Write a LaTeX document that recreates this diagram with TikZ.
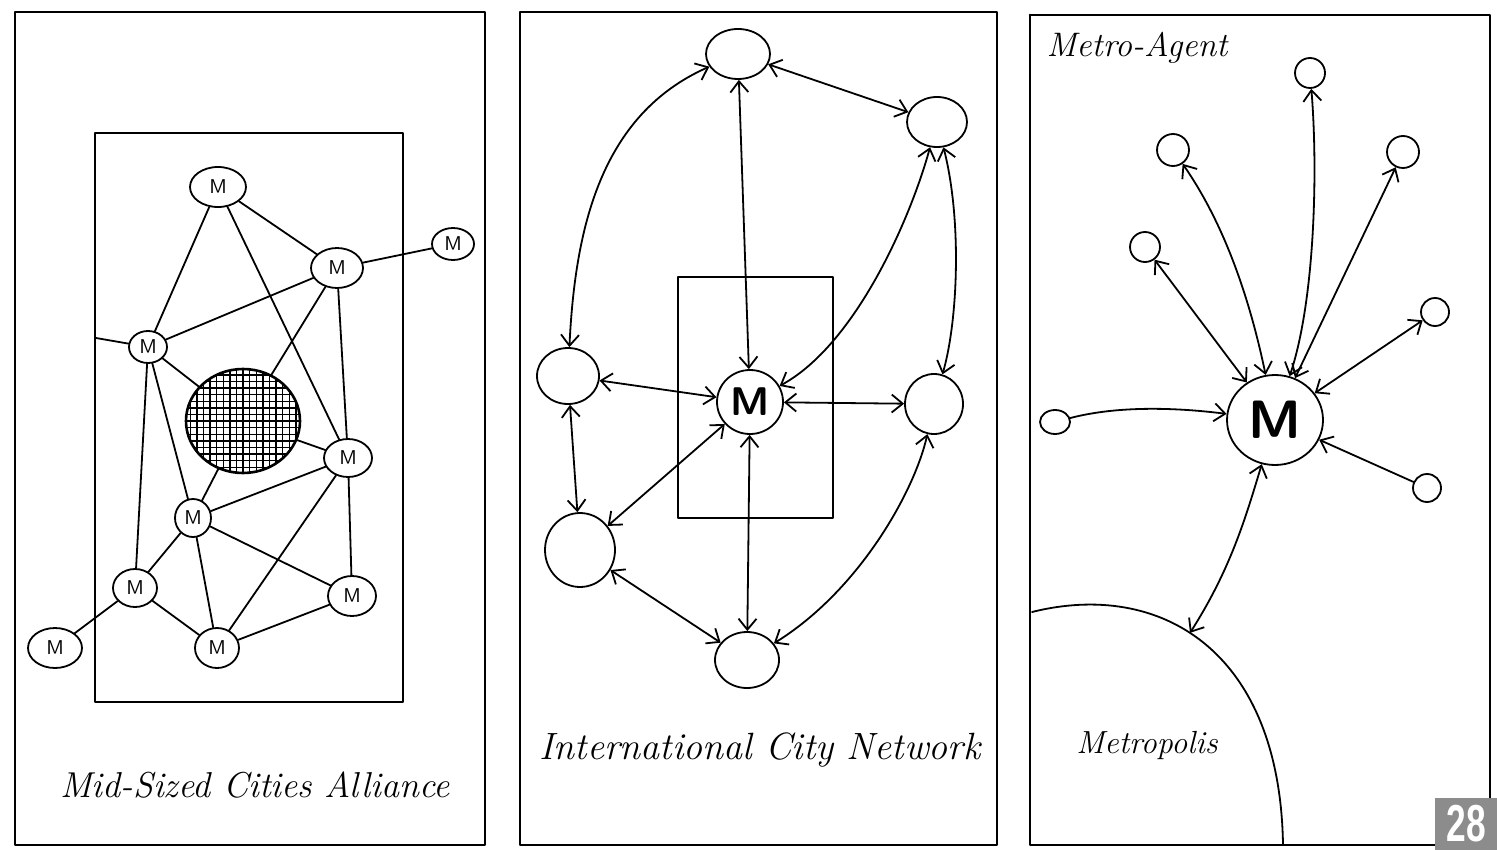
\documentclass[tikz,border=0pt]{standalone}
\usepackage{fontspec}
\newfontfamily\numfont{Liberation Sans}
\usetikzlibrary{arrows.meta,shapes.geometric}
\begin{document}
\begin{tikzpicture}[x=0.5pt,y=-0.5pt, line width=0.9pt, line cap=round, line join=round,
  hbarb/.tip={Straight Barb[length=5.5pt,width=9pt]},
  biarr/.style={hbarb-hbarb},
  toarr/.style={-hbarb},
  frame/.style={line width=1.3pt},
  mnode/.style={draw, ellipse, inner sep=0pt, font=\sffamily\fontsize{10}{10}\selectfont},
  cnode/.style={draw, ellipse, inner sep=0pt},
  bigm/.style={font=\sffamily\bfseries\fontsize{20}{20}\selectfont},
  hand/.style={font=\itshape\fontsize{18}{20}\selectfont, inner sep=0pt}]
\useasboundingbox (0,0) rectangle (1497,850);
\fill[white] (0,0) rectangle (1497,850);

% ---------------- Panel 1 ----------------
\draw[frame] (15,12) rectangle (485,845);
\draw (95,133) rectangle (403,702);
\node[mnode, minimum width=28pt, minimum height=20pt] (a1) at (218,187) {M};
\node[mnode, minimum width=26pt, minimum height=20pt] (ru) at (337,268) {M};
\node[mnode, minimum width=21pt, minimum height=16pt] (fr) at (453,244) {M};
\node[mnode, minimum width=19pt, minimum height=16pt] (lm) at (148,347) {M};
\node[mnode, minimum width=24pt, minimum height=19pt] (rm) at (348,458) {M};
\node[mnode, minimum width=18pt, minimum height=19pt] (cl) at (193,518) {M};
\node[mnode, minimum width=22pt, minimum height=19pt] (ll) at (135,588) {M};
\node[mnode, minimum width=27pt, minimum height=20pt] (fl) at (55,648) {M};
\node[mnode, minimum width=22pt, minimum height=20pt] (bm) at (217,648) {M};
\node[mnode, minimum width=24pt, minimum height=20pt] (rl) at (352,596) {M};
\node[draw, ellipse, inner sep=0pt, line width=1.3pt, minimum width=57pt, minimum height=52pt,
  path picture={\foreach \k in {-9,...,9} {
     \draw[line width=0.7pt] ([xshift=\k*3.3pt]path picture bounding box.north) -- ([xshift=\k*3.3pt]path picture bounding box.south);
     \draw[line width=0.7pt] ([yshift=\k*3.3pt]path picture bounding box.west) -- ([yshift=\k*3.3pt]path picture bounding box.east);}}]
  (hatch) at (243,421) {};
\coordinate (stub) at (96,338);
\draw (a1) -- (lm);
\draw (a1) -- (ru);
\draw (a1) -- (rm);
\draw (ru) -- (fr);
\draw (ru) -- (lm);
\draw (ru) -- (hatch);
\draw (ru) -- (rm);
\draw (rm) -- (rl);
\draw (lm) -- (stub);
\draw (lm) -- (hatch);
\draw (lm) -- (ll);
\draw (lm) -- (cl);
\draw (hatch) -- (cl);
\draw (hatch) -- (rm);
\draw (cl) -- (rm);
\draw (cl) -- (bm);
\draw (cl) -- (ll);
\draw (cl) -- (rl);
\draw (rm) -- (bm);
\draw (ll) -- (fl);
\draw (ll) -- (bm);
\draw (bm) -- (rl);
\node[hand] (lab1) at (255,785) {Mid-Sized Cities Alliance};

% ---------------- Panel 2 ----------------
\draw[frame] (520,12) rectangle (997,845);
\draw (678,277) rectangle (833,518);
\node[cnode, minimum width=32pt, minimum height=25pt] (top) at (738,54) {};
\node[cnode, minimum width=30pt, minimum height=25pt] (tr) at (937,122) {};
\node[cnode, minimum width=31pt, minimum height=28pt] (lf) at (568,376) {};
\node[cnode, minimum width=33pt, minimum height=32pt, bigm] (cm) at (750,402) {M};
\node[cnode, minimum width=29pt, minimum height=30pt] (rt) at (934,404) {};
\node[cnode, minimum width=35pt, minimum height=37pt] (bl) at (580,550) {};
\node[cnode, minimum width=32pt, minimum height=28pt] (bt) at (747,660) {};
\draw[biarr] (top) .. controls (600,115) and (575,230) .. (lf);
\draw[biarr] (top) -- (cm);
\draw[biarr] (top) -- (tr);
\draw[biarr] (cm) .. controls (855,345) and (910,220) .. (tr);
\draw[biarr] (tr) .. controls (962,220) and (958,320) .. (rt);
\draw[biarr] (lf) -- (cm);
\draw[biarr] (cm) -- (rt);
\draw[biarr] (lf) -- (bl);
\draw[biarr] (cm) -- (bl);
\draw[biarr] (cm) -- (bt);
\draw[biarr] (bl) -- (bt);
\draw[biarr] (bt) .. controls (860,590) and (915,490) .. (rt);
\node[hand, font=\itshape\fontsize{19}{20}\selectfont] (lab2) at (760,750) {International City Network};

% ---------------- Panel 3 ----------------
\draw[frame] (1030,15) -- (1490,15) -- (1490,798);
\draw[frame] (1030,15) -- (1030,845) -- (1435,845);
\draw (1032,612) .. controls (1160,580) and (1280,650) .. (1283,845) coordinate[pos=0.45] (metro);
\node[cnode, minimum width=48pt, minimum height=45pt, font=\sffamily\bfseries\fontsize{27}{27}\selectfont] (mm) at (1275,420) {M};
\node[cnode, minimum width=15pt, minimum height=15pt] (s1) at (1310,73) {};
\node[cnode, minimum width=16pt, minimum height=16pt] (s2) at (1173,150) {};
\node[cnode, minimum width=16pt, minimum height=16pt] (s3) at (1403,152) {};
\node[cnode, minimum width=15pt, minimum height=15pt] (s4) at (1145,247) {};
\node[cnode, minimum width=14pt, minimum height=14pt] (s5) at (1435,312) {};
\node[cnode, minimum width=15pt, minimum height=12pt] (s6) at (1055,422) {};
\node[cnode, minimum width=14pt, minimum height=14pt] (s7) at (1427,488) {};
\draw[biarr] (s1) .. controls (1318,170) and (1315,300) .. (mm);
\draw[biarr] (s2) .. controls (1225,225) and (1250,300) .. (mm);
\draw[biarr] (s3) -- (mm);
\draw[biarr] (s4) -- (mm);
\draw[biarr] (s5) -- (mm);
\draw[toarr] (s6) .. controls (1120,405) and (1180,408) .. (mm);
\draw[toarr] (s7) -- (mm);
\draw[biarr] (mm) .. controls (1245,520) and (1230,570) .. (metro);
\node[hand, font=\itshape\fontsize{17}{20}\selectfont] (lab3) at (1137,48) {Metro-Agent};
\node[hand, font=\itshape\fontsize{16}{20}\selectfont] (lab4) at (1147,745) {Metropolis};

% page number box
\fill[black!45] (1435,798) rectangle (1497,850);
\node[font=\numfont\bfseries\fontsize{26}{26}\selectfont, text=white, inner sep=0pt, xscale=0.68] (pg) at (1466,824) {28};
\end{tikzpicture}
\end{document}
